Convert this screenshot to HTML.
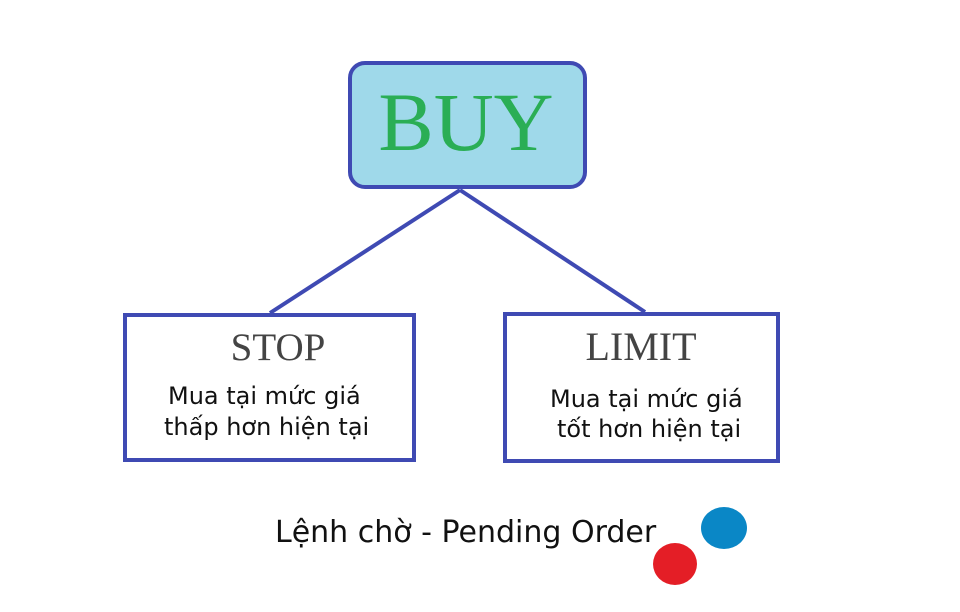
<!DOCTYPE html>
<html><head><meta charset="utf-8"><style>
body{margin:0;background:#fff;}
svg{display:block}
</style></head><body>
<svg width="960" height="612" xmlns="http://www.w3.org/2000/svg">
<rect x="0" y="0" width="960" height="612" fill="#fff"/>
<line x1="460" y1="190" x2="270" y2="313" stroke="#3f4ab3" stroke-width="4"/>
<line x1="460" y1="190" x2="645" y2="312" stroke="#3f4ab3" stroke-width="4"/>
<rect x="350" y="63" width="235" height="124" rx="15" fill="#9fd9ea" stroke="#3f4ab3" stroke-width="4"/>
<text x="466" y="150" text-anchor="middle" font-family="Liberation Serif, serif" font-size="83" fill="#2aae55">BUY</text>
<rect x="125" y="315" width="289" height="145" fill="#fff" stroke="#3f4ab3" stroke-width="4"/>
<rect x="505" y="314" width="273" height="147" fill="#fff" stroke="#3f4ab3" stroke-width="4"/>
<text x="278" y="360" text-anchor="middle" font-family="Liberation Serif, serif" font-size="39" fill="#444">STOP</text>
<text x="641" y="360" text-anchor="middle" font-family="Liberation Serif, serif" font-size="40" fill="#444">LIMIT</text>
<g font-family="DejaVu Sans, sans-serif" font-size="24" fill="#111">
<text x="168" y="404">Mua tại mức giá</text>
<text x="164" y="435">thấp hơn hiện tại</text>
<text x="550" y="407">Mua tại mức giá</text>
<text x="557" y="437">tốt hơn hiện tại</text>
</g>
<text x="275" y="542" font-family="DejaVu Sans, sans-serif" font-size="30" fill="#111">Lệnh chờ - Pending Order</text>
<ellipse cx="724" cy="528" rx="23" ry="21" fill="#0a87c6"/>
<ellipse cx="675" cy="564" rx="22" ry="21" fill="#e41e26"/>
</svg>
</body></html>
